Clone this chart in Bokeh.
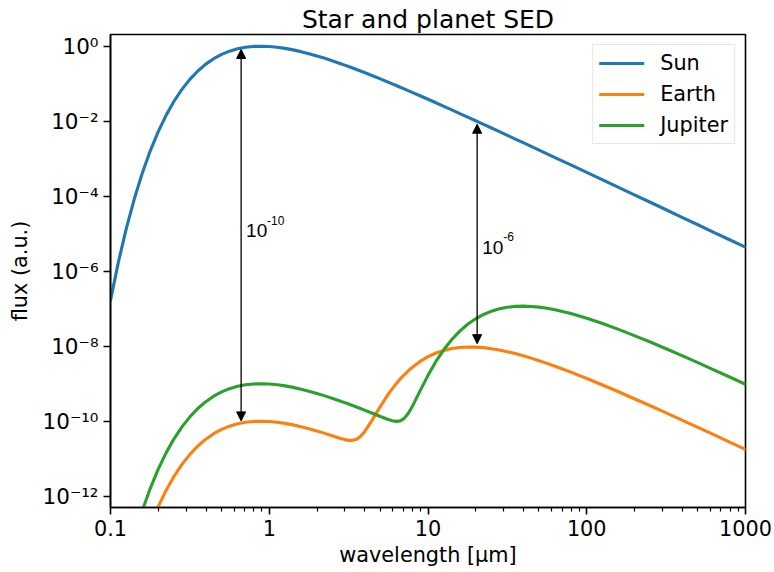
from bokeh.plotting import figure
from bokeh.models import (ColumnDataSource, FixedTicker, CustomJSTickFormatter, Arrow,
                          NormalHead, Legend, LegendItem, Range1d)
from bokeh.embed import file_html
from bokeh.resources import INLINE
from bokeh.core.properties import value

# ---------------- data ----------------
wavelength_um = [0.1, 0.1122, 0.1259, 0.1413, 0.1585, 0.1778, 0.1995, 0.2239, 0.2512, 0.2818,
                 0.3162, 0.3548, 0.3981, 0.4467, 0.5012, 0.5623, 0.6310, 0.7079, 0.7943, 0.8913,
                 1.0, 1.122, 1.259, 1.413, 1.585, 1.778, 1.995, 2.239, 2.512, 2.818,
                 2.985, 3.162, 3.350, 3.548, 3.758, 3.981, 4.467, 5.012, 5.623, 5.957,
                 6.310, 6.683, 7.079, 7.499, 7.943, 8.913, 10.0, 11.22, 12.59, 14.13,
                 15.85, 17.78, 19.95, 22.39, 25.12, 28.18, 31.62, 35.48, 39.81, 44.67,
                 50.12, 56.23, 63.10, 79.43, 100.0, 125.9, 158.5, 199.5, 251.2, 316.2,
                 398.1, 501.2, 631.0, 794.3, 1000.0]

sun_flux = [1.67e-7, 1.77e-6, 1.40e-5, 8.51e-5, 4.10e-4, 1.60e-3, 5.20e-3, 1.43e-2, 3.40e-2, 7.06e-2,
            0.1306, 0.218, 0.332, 0.4645, 0.604, 0.738, 0.853, 0.937, 0.986, 1.000,
            0.982, 0.938, 0.875, 0.798, 0.716, 0.632, 0.551, 0.474, 0.405, 0.342,
            0.3134, 0.287, 0.2621, 0.239, 0.2178, 0.198, 0.163, 0.134, 0.1096, 0.0990,
            0.0893, 0.0806, 0.0726, 0.0654, 0.0589, 0.0476, 0.0385, 0.0310, 0.0249, 0.0200,
            0.0160, 0.01285, 0.01028, 8.23e-3, 6.58e-3, 5.25e-3, 4.20e-3, 3.345e-3, 2.67e-3, 2.126e-3,
            1.69e-3, 1.35e-3, 1.07e-3, 6.81e-4, 4.31e-4, 2.72e-4, 1.72e-4, 1.09e-4, 6.89e-5, 4.35e-5,
            2.74e-5, 1.73e-5, 1.09e-5, 6.90e-6, 4.36e-6]

earth_flux = [1.67e-17, 1.77e-16, 1.40e-15, 8.51e-15, 4.10e-14, 1.60e-13, 5.20e-13, 1.43e-12, 3.40e-12, 7.06e-12,
              1.306e-11, 2.18e-11, 3.32e-11, 4.65e-11, 6.04e-11, 7.38e-11, 8.53e-11, 9.37e-11, 9.86e-11, 1.00e-10,
              9.82e-11, 9.38e-11, 8.75e-11, 7.98e-11, 7.16e-11, 6.32e-11, 5.51e-11, 4.74e-11, 4.05e-11, 3.46e-11,
              3.23e-11, 3.08e-11, 3.085e-11, 3.31e-11, 3.94e-11, 5.19e-11, 1.10e-10, 2.49e-10, 5.25e-10, 7.39e-10,
              1.005e-9, 1.34e-9, 1.73e-9, 2.20e-9, 2.72e-9, 3.93e-9, 5.26e-9, 6.58e-9, 7.74e-9, 8.67e-9,
              9.27e-9, 9.54e-9, 9.46e-9, 9.15e-9, 8.59e-9, 7.91e-9, 7.14e-9, 6.35e-9, 5.56e-9, 4.81e-9,
              4.11e-9, 3.49e-9, 2.93e-9, 2.03e-9, 1.38e-9, 9.25e-10, 6.10e-10, 3.98e-10, 2.59e-10, 1.67e-10,
              1.072e-10, 6.85e-11, 4.37e-11, 2.78e-11, 1.77e-11]

jupiter_flux = [1.67e-16, 1.77e-15, 1.40e-14, 8.51e-14, 4.10e-13, 1.60e-12, 5.20e-12, 1.43e-11, 3.40e-11, 7.06e-11,
                1.306e-10, 2.18e-10, 3.32e-10, 4.65e-10, 6.04e-10, 7.38e-10, 8.53e-10, 9.37e-10, 9.86e-10, 1.00e-9,
                9.82e-10, 9.38e-10, 8.75e-10, 7.98e-10, 7.16e-10, 6.32e-10, 5.51e-10, 4.74e-10, 4.05e-10, 3.42e-10,
                3.13e-10, 2.87e-10, 2.62e-10, 2.39e-10, 2.18e-10, 1.98e-10, 1.63e-10, 1.34e-10, 1.11e-10, 1.03e-10,
                9.91e-11, 1.02e-10, 1.19e-10, 1.60e-10, 2.41e-10, 6.43e-10, 1.67e-9, 3.93e-9, 8.15e-9, 1.51e-8,
                2.52e-8, 3.84e-8, 5.38e-8, 7.03e-8, 8.59e-8, 9.94e-8, 1.09e-7, 1.152e-7, 1.17e-7, 1.149e-7,
                1.10e-7, 1.024e-7, 9.35e-8, 7.41e-8, 5.57e-8, 4.02e-8, 2.81e-8, 1.92e-8, 1.29e-8, 8.53e-9,
                5.60e-9, 3.64e-9, 2.35e-9, 1.51e-9, 9.68e-10]

series_names = ["Sun", "Earth", "Jupiter"]
series_colors = ["#1f77b4", "#ff7f0e", "#2ca02c"]

x_ticks = [0.1, 1, 10, 100, 1000]
x_tick_labels = ["0.1", "1", "10", "100", "1000"]
x_minor_ticks = [0.2, 0.3, 0.4, 0.5, 0.6, 0.7, 0.8, 0.9,
                 2, 3, 4, 5, 6, 7, 8, 9,
                 20, 30, 40, 50, 60, 70, 80, 90,
                 200, 300, 400, 500, 600, 700, 800, 900]
y_ticks = [1e-12, 1e-10, 1e-8, 1e-6, 1e-4, 1e-2, 1.0]
y_tick_labels = ["10\u207b\u00b9\u00b2", "10\u207b\u00b9\u2070", "10\u207b\u2078", "10\u207b\u2076",
                 "10\u207b\u2074", "10\u207b\u00b2", "10\u2070"]

# contrast arrows and their labels
arrow_wavelength = [0.665, 20.4]
arrow_top_flux = [0.817, 8.3e-3]
arrow_bottom_flux = [1.02e-10, 1.17e-8]
label_flux = [1.19e-5, 4.37e-6]
label_base = ["10", "10"]
label_exponent = ["-10", "-6"]

# ---------------- figure ----------------
FONT = "DejaVu Sans"

p = figure(frame_width=635, frame_height=473,
           x_axis_type="log", y_axis_type="log",
           x_range=Range1d(0.1, 1000), y_range=Range1d(5e-13, 2.05),
           output_backend="svg", toolbar_location=None,
           min_border_left=110, min_border_right=29, min_border_top=34, min_border_bottom=65,
           background_fill_color="white", border_fill_color="white")

p.title.text = "Star and planet SED"
p.title.text_font = FONT
p.title.text_font_size = "25px"
p.title.text_font_style = "normal"
p.title.text_color = "black"
p.title.align = "center"
p.title.standoff = 2

p.xgrid.visible = False
p.ygrid.visible = False
p.outline_line_color = "black"
p.outline_line_width = 1.6
p.outline_line_alpha = 1.0

src = ColumnDataSource(dict(wavelength=wavelength_um, Sun=sun_flux, Earth=earth_flux, Jupiter=jupiter_flux))
items = []
for name, col in zip(series_names, series_colors):
    r = p.line(x="wavelength", y=name, source=src, line_color=col, line_width=3.1,
               line_join="round", line_cap="round")
    items.append(LegendItem(label=name, renderers=[r]))

# axes
FMT_CODE = """
let best = 0, d = Infinity;
for (let i = 0; i < tick_values.length; i++) {
  const dd = Math.abs(Math.log10(tick_values[i]) - Math.log10(tick));
  if (dd < d) { d = dd; best = i; }
}
return tick_texts[best];
"""
xfmt = CustomJSTickFormatter(args=dict(tick_values=x_ticks, tick_texts=x_tick_labels), code=FMT_CODE)
yfmt = CustomJSTickFormatter(args=dict(tick_values=y_ticks, tick_texts=y_tick_labels), code=FMT_CODE)
p.xaxis.ticker = FixedTicker(ticks=x_ticks, minor_ticks=x_minor_ticks)
p.yaxis.ticker = FixedTicker(ticks=y_ticks, minor_ticks=[])
p.xaxis.formatter = xfmt
p.yaxis.formatter = yfmt
p.xaxis.axis_label = "wavelength [\u03bcm]"
p.yaxis.axis_label = "flux (a.u.)"

for ax in (p.xaxis[0], p.yaxis[0]):
    ax.axis_label_text_font = FONT
    ax.axis_label_text_font_size = "20.8px"
    ax.axis_label_text_font_style = "normal"
    ax.axis_label_text_color = "black"
    ax.major_label_text_font = FONT
    ax.major_label_text_font_size = "20.8px"
    ax.major_label_text_color = "black"
    ax.axis_line_color = "black"
    ax.axis_line_width = 1.6
    ax.major_tick_line_color = "black"
    ax.major_tick_line_width = 1.6
    ax.minor_tick_line_color = "black"
    ax.minor_tick_line_width = 1.2
    ax.major_tick_in = 0
    ax.major_tick_out = 7
    ax.minor_tick_in = 0
    ax.minor_tick_out = 4
    ax.major_label_standoff = 5

p.yaxis.major_label_text_font_size = "21.5px"
p.xaxis.axis_label_standoff = 4
p.yaxis.axis_label_standoff = 8

# arrows
arrow_src = ColumnDataSource(dict(x=arrow_wavelength, top=arrow_top_flux, bottom=arrow_bottom_flux))
p.add_layout(Arrow(start=NormalHead(size=9, fill_color="black", line_color="black", line_width=1),
                   end=NormalHead(size=9, fill_color="black", line_color="black", line_width=1),
                   x_start="x", y_start="top", x_end="x", y_end="bottom",
                   source=arrow_src, line_color="black", line_width=1.3))

lab_src = ColumnDataSource(dict(x=arrow_wavelength, y=label_flux, base=label_base, exp=label_exponent))
p.text(x="x", y="y", text="base", source=lab_src, x_offset=5, y_offset=0,
       text_font=value("Liberation Sans"), text_font_size="19px",
       text_baseline="alphabetic", text_align="left", text_color="black")
p.text(x="x", y="y", text="exp", source=lab_src, x_offset=26, y_offset=-10.5,
       text_font=value("Liberation Sans"), text_font_size="12px",
       text_baseline="alphabetic", text_align="left", text_color="black")

legend = Legend(items=items, location="top_right",
                label_text_font=FONT, label_text_font_size="20.8px", label_text_color="black",
                glyph_width=45, glyph_height=20, label_standoff=16, label_height=20,
                spacing=7, padding=6, margin=10,
                border_line_color="#cccccc", border_line_width=1.3,
                background_fill_color="white", background_fill_alpha=0.8)
p.add_layout(legend)

open("out.html", "w").write(file_html(p, INLINE))
